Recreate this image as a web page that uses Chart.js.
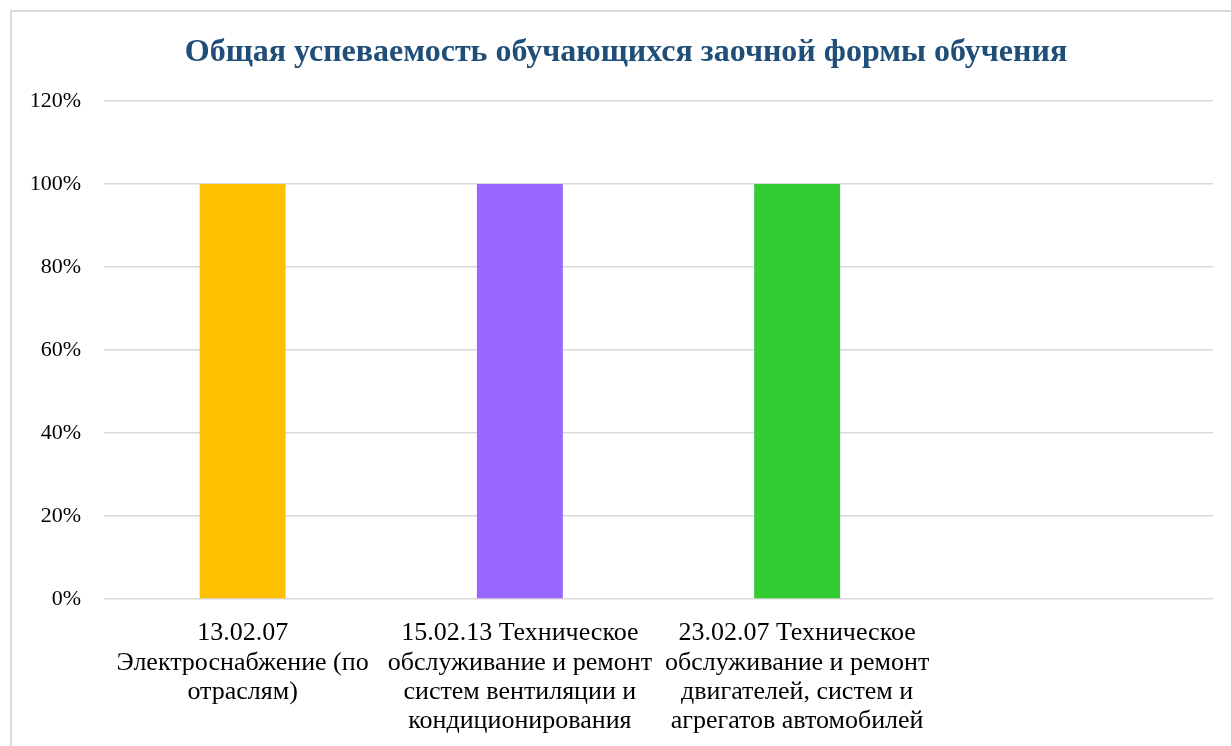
<!DOCTYPE html>
<html>
<head>
<meta charset="utf-8">
<script src="https://cdn.jsdelivr.net/npm/chart.js@4.4.1/dist/chart.umd.min.js"></script>
<style>
  html, body { margin: 0; padding: 0; background: #ffffff; }
  #wrap { position: relative; width: 1231px; height: 746px; overflow: hidden; }
  #frame { position: absolute; left: 10px; top: 10px; width: 1400px; height: 900px; border: 2px solid #d9d9d9; box-sizing: border-box; }
  canvas { position: absolute; left: 0; top: 0; }
</style>
</head>
<body>
<div id="wrap">
  <div id="frame"></div>
  <canvas id="c" width="1231" height="746"></canvas>
</div>
<script>
const chartTitle = "Общая успеваемость обучающихся заочной формы обучения";
const categories = [
  ["13.02.07", "Электроснабжение (по", "отраслям)"],
  ["15.02.13 Техническое", "обслуживание и ремонт", "систем вентиляции и", "кондиционирования"],
  ["23.02.07 Техническое", "обслуживание и ремонт", "двигателей, систем и", "агрегатов автомобилей"],
  ""
];
const successRate = [1.0, 1.0, 1.0, null];
const barColors = ["#FFC000", "#9966FF", "#33CC33", "#FFFFFF"];
const yTicks = [0, 0.2, 0.4, 0.6, 0.8, 1.0, 1.2];

const serif = "'Liberation Serif', 'Times New Roman', serif";

// Shift the title's horizontal span so it is centred like the original (frame-centred).
const titleShift = {
  id: 'titleShift',
  afterLayout(chart) {
    if (chart.titleBlock) {
      chart.titleBlock.left = 39;
      chart.titleBlock.right = 1213;
    }
  }
};

new Chart(document.getElementById('c'), {
  type: 'bar',
  data: {
    labels: categories,
    datasets: [{
      data: successRate,
      backgroundColor: barColors,
      borderWidth: 0,
      categoryPercentage: 1.0,
      barPercentage: 0.31
    }]
  },
  plugins: [titleShift],
  options: {
    responsive: false,
    animation: false,
    layout: { padding: { left: 0, right: 18, top: 0, bottom: 0 } },
    plugins: {
      legend: { display: false },
      tooltip: { enabled: false },
      title: {
        display: true,
        text: chartTitle,
        color: '#1F4E79',
        font: { family: serif, size: 32, weight: 'bold', lineHeight: 1.2 },
        padding: { top: 33.5, bottom: 29.1 }
      }
    },
    scales: {
      x: {
        grid: { display: false, drawTicks: false },
        border: { display: false },
        ticks: {
          color: '#000000',
          font: { family: serif, size: 26, lineHeight: 1.12 },
          padding: 20,
          autoSkip: false,
          maxRotation: 0,
          minRotation: 0
        },
        afterFit: (s) => { s.height = 147; }
      },
      y: {
        min: 0,
        max: 1.2,
        afterBuildTicks: (s) => { s.ticks = yTicks.map(v => ({ value: v })); },
        grid: { color: '#d9d9d9', lineWidth: 1.5, drawTicks: false },
        border: { display: false },
        ticks: {
          color: '#000000',
          font: { family: serif, size: 22 },
          padding: 23,
          callback: (v) => Math.round(v * 100) + '%'
        },
        afterFit: (s) => { s.width = 104; }
      }
    }
  }
});
</script>
</body>
</html>
